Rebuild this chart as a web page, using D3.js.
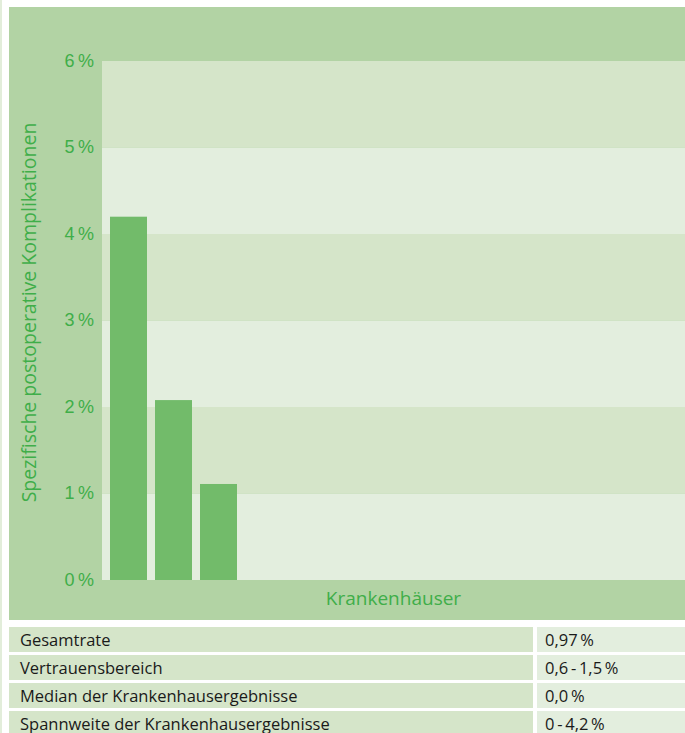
<!DOCTYPE html>
<html>
<head>
<meta charset="utf-8">
<script src="https://cdn.jsdelivr.net/npm/d3@7"></script>
<style>
  body { margin: 0; background: #fff; }
  svg { display: block; font-family: "Open Sans", "Noto Sans", sans-serif; }
</style>
</head>
<body>
<div id="chart"></div>
<script>
// chart data
const hospitals = ["KH1", "KH2", "KH3", "KH4", "KH5", "KH6", "KH7", "KH8", "KH9", "KH10", "KH11", "KH12", "KH13"];
const rates = [4.2, 2.08, 1.11, 0, 0, 0, 0, 0, 0, 0, 0, 0, 0];
const yTicks = [0, 1, 2, 3, 4, 5, 6];
const statLabels = ["Gesamtrate", "Vertrauensbereich", "Median der Krankenhausergebnisse", "Spannweite der Krankenhausergebnisse"];
const statValues = ["0,97\u2009%", "0,6\u2009-\u20091,5\u2009%", "0,0\u2009%", "0\u2009-\u20094,2\u2009%"];

const width = 685, height = 733;
const panelColor = "#b2d3a4", darkBand = "#d5e5c9", lightBand = "#e3eede";
const barColor = "#72bb6a", textGreen = "#3fae49";

const svg = d3.select("#chart").append("svg")
  .attr("width", width)
  .attr("height", height);

// thin line on the far left
svg.append("rect").attr("x", 0).attr("y", 0).attr("width", 2).attr("height", height).attr("fill", "#e2edda");

// green panel behind the chart
svg.append("rect")
  .attr("x", 9).attr("y", 7)
  .attr("width", width - 9).attr("height", 613)
  .attr("fill", panelColor);

const plot = { left: 102, right: 685, top: 61, bottom: 580 };

const y = d3.scaleLinear().domain([0, 6]).range([plot.bottom, plot.top]);

// band scale: step 45, bar 37
const x = d3.scaleBand()
  .domain(hospitals)
  .range([plot.left, plot.left + 45 * hospitals.length + 8])
  .paddingInner(8 / 45)
  .paddingOuter(8 / 45);

// alternating bands
svg.append("g").selectAll("rect")
  .data(yTicks.slice(0, -1))
  .join("rect")
  .attr("x", plot.left)
  .attr("y", d => y(d + 1))
  .attr("width", plot.right - plot.left)
  .attr("height", d => y(d) - y(d + 1))
  .attr("fill", d => d % 2 === 0 ? lightBand : darkBand);

// bars
svg.append("g").selectAll("rect")
  .data(rates)
  .join("rect")
  .attr("x", (d, i) => x(hospitals[i]))
  .attr("y", d => y(d))
  .attr("width", x.bandwidth())
  .attr("height", d => y(0) - y(d))
  .attr("fill", barColor);

// y axis labels
const yAxis = svg.append("g")
  .attr("transform", `translate(${plot.left - 8},0)`)
  .call(d3.axisLeft(y).tickValues(yTicks).tickSize(0).tickPadding(0).tickFormat(d => d + "\u2009%"));
yAxis.select(".domain").remove();
yAxis.selectAll("text")
  .attr("fill", textGreen)
  .style("font-size", "18px")
  .attr("dy", "0.28em");

// axis titles
svg.append("text")
  .attr("transform", `translate(36,${(plot.top + plot.bottom) / 2 - 8}) rotate(-90)`)
  .attr("text-anchor", "middle")
  .attr("fill", textGreen)
  .style("font-size", "19.5px")
  .text("Spezifische postoperative Komplikationen");

svg.append("text")
  .attr("x", (plot.left + plot.right) / 2)
  .attr("y", 605)
  .attr("text-anchor", "middle")
  .attr("fill", textGreen)
  .style("font-size", "19px")
  .text("Krankenhäuser");

// stats table
const rowY = d3.scaleBand().domain(statLabels).range([627, 736]).paddingInner(3 / 28).paddingOuter(0).align(0);

const rows = svg.append("g").selectAll("g")
  .data(statLabels)
  .join("g")
  .attr("transform", d => `translate(0,${rowY(d)})`);

rows.append("rect")
  .attr("x", 9).attr("width", 524)
  .attr("height", rowY.bandwidth())
  .attr("fill", darkBand);
rows.append("rect")
  .attr("x", 537).attr("width", width - 537)
  .attr("height", rowY.bandwidth())
  .attr("fill", lightBand);

rows.append("text")
  .attr("x", 20).attr("y", 19)
  .attr("fill", "#1a1a1a")
  .style("font-size", "16.5px")
  .text(d => d);
rows.append("text")
  .attr("x", 545).attr("y", 19)
  .attr("fill", "#1a1a1a")
  .style("font-size", "16.5px")
  .text((d, i) => statValues[i]);
</script>
</body>
</html>
